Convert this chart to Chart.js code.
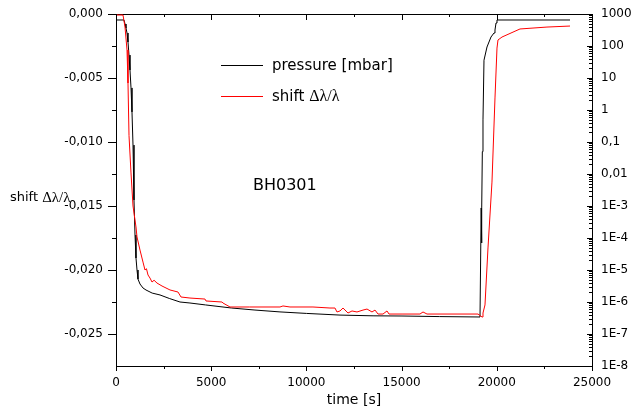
<!DOCTYPE html>
<html><head><meta charset="utf-8">
<script src="https://cdn.jsdelivr.net/npm/chart.js@4.4.0/dist/chart.umd.min.js"></script>
<style>html,body{margin:0;padding:0;background:#fff;}#wrap{position:relative;width:631px;height:417px;}</style>
</head><body><div id="wrap"><canvas id="c"></canvas></div>
<script>
// ---- data ----
const timePressure = [0, 420, 473, 525, 578, 630, 683, 735, 788, 840, 893, 945, 998, 1050, 1103, 1155, 1260, 1418, 1576, 1900, 2311, 2800, 3361, 3886, 4700, 6058, 7300, 8613, 10000, 11765, 13500, 15021, 17000, 19118, 19170, 19180, 19200, 19215, 19240, 19275, 19327, 19485, 19695, 19853, 19905, 19958, 20010, 23845];
const pressure = [650, 650, 487, 365, 255, 133, 52, 17.8, 4.9, 0.87, 0.08, 1.54e-3, 1.24e-4, 2.37e-5, 1e-5, 5.2e-6, 3.65e-6, 2.74e-6, 2.37e-6, 1.9e-6, 1.66e-6, 1.29e-6, 1e-6, 9.3e-7, 8.1e-7, 6.5e-7, 5.6e-7, 4.9e-7, 4.4e-7, 3.9e-7, 3.7e-7, 3.65e-7, 3.5e-7, 3.4e-7, 3.4e-7, 8.7e-4, 7e-5, 8.7e-4, 0.05, 0.49, 36, 93, 191, 255, 316, 523, 650, 650];
const timeShift = [0, 52, 368, 473, 578, 630, 683, 788, 893, 1050, 1103, 1260, 1418, 1523, 1600, 1681, 1786, 1891, 2000, 2153, 2416, 2836, 3256, 3414, 3886, 4674, 4727, 5567, 5619, 5987, 7000, 8613, 8770, 9138, 10346, 11239, 11501, 11606, 11764, 11922, 12185, 12395, 12657, 12973, 13183, 13445, 13603, 13761, 14023, 14233, 14338, 15073, 15966, 16124, 16334, 19013, 19223, 19275, 19380, 19537, 19747, 19905, 20010, 20063, 20273, 21218, 22636, 23845];
const shift = [-0.00005, -0.00008, -0.00008, -0.00102, -0.00281, -0.00539, -0.0095, -0.01242, -0.015, -0.01664, -0.01742, -0.01844, -0.01938, -0.02, -0.0199, -0.02039, -0.02063, -0.02094, -0.0208, -0.02102, -0.02125, -0.02156, -0.02172, -0.02211, -0.02219, -0.02227, -0.02242, -0.0225, -0.02258, -0.02289, -0.02289, -0.02289, -0.02281, -0.02289, -0.02289, -0.02297, -0.02297, -0.02328, -0.0232, -0.02297, -0.02336, -0.0232, -0.02328, -0.02313, -0.02305, -0.02328, -0.02313, -0.02344, -0.02344, -0.0232, -0.02344, -0.02344, -0.02344, -0.02328, -0.02344, -0.02344, -0.02367, -0.02336, -0.02273, -0.01828, -0.01313, -0.00656, -0.00266, -0.00203, -0.0018, -0.00117, -0.00102, -0.00094];
const xTicks = [0, 5000, 10000, 15000, 20000, 25000];
const xMinorTicks = [2500, 7500, 12500, 17500, 22500];
const leftTicks = [-0.025, -0.020, -0.015, -0.010, -0.005, 0];
const leftMinorTicks = [-0.0225, -0.0175, -0.0125, -0.0075, -0.0025];
const rightTicks = [1e-8, 1e-7, 1e-6, 1e-5, 1e-4, 1e-3, 1e-2, 1e-1, 1, 10, 100, 1000];
const rightLabels = ['1E-8', '1E-7', '1E-6', '1E-5', '1E-4', '1E-3', '0,01', '0,1', '1', '10', '100', '1000'];
const seriesNames = ['pressure [mbar]', 'shift '];

const FONT = 'DejaVu Sans';
const tickFont = {family: FONT, size: 12};

const pts = (xs, ys) => xs.map((x, i) => ({x, y: ys[i]}));
const noPad = s => { s.paddingTop = 0; s.paddingBottom = 0; s.paddingLeft = 0; s.paddingRight = 0; };

const frame = {
  id: 'frame',
  afterDraw(chart) {
    const ctx = chart.ctx, a = chart.chartArea;
    const sx = chart.scales.x, sy = chart.scales.y, sr = chart.scales.yR;
    ctx.save();
    ctx.strokeStyle = '#000'; ctx.lineWidth = 1;
    ctx.beginPath();
    const vx = v => Math.round(sx.getPixelForValue(v)) + 0.5;
    const vy = (s, v) => Math.round(s.getPixelForValue(v)) + 0.5;
    xTicks.forEach(v => { const p = vx(v); ctx.moveTo(p, a.bottom); ctx.lineTo(p, a.bottom + 5); ctx.moveTo(p, a.top); ctx.lineTo(p, a.top + 6); });
    xMinorTicks.forEach(v => { const p = vx(v); ctx.moveTo(p, a.bottom); ctx.lineTo(p, a.bottom + 3); ctx.moveTo(p, a.top); ctx.lineTo(p, a.top + 3); });
    leftTicks.forEach(v => { const p = vy(sy, v); ctx.moveTo(a.left, p); ctx.lineTo(a.left - 8, p); });
    leftMinorTicks.forEach(v => { const p = vy(sy, v); ctx.moveTo(a.left, p); ctx.lineTo(a.left - 4, p); });
    rightTicks.forEach((v, i) => {
      const p = vy(sr, v); ctx.moveTo(a.right, p); ctx.lineTo(a.right - 5, p);
      if (i < rightTicks.length - 1) {
        for (let k = 2; k <= 9; k++) { const q = vy(sr, v * k); ctx.moveTo(a.right, q); ctx.lineTo(a.right - 3, q); }
      }
    });
    ctx.stroke();
    // legend
    ctx.beginPath(); ctx.strokeStyle = '#000'; ctx.moveTo(221, 65.5); ctx.lineTo(263, 65.5); ctx.stroke();
    ctx.beginPath(); ctx.strokeStyle = '#ff0000'; ctx.moveTo(221, 96.5); ctx.lineTo(263, 96.5); ctx.stroke();
    ctx.fillStyle = '#000'; ctx.textBaseline = 'middle'; ctx.textAlign = 'left';
    ctx.font = '15px "' + FONT + '"';
    ctx.fillText(seriesNames[0], 272, 66);
    ctx.fillText(seriesNames[1], 272, 97);
    let w = ctx.measureText(seriesNames[1]).width;
    ctx.font = '16px "Liberation Serif"';
    ctx.fillText('\u0394\u03bb/\u03bb', 272 + w, 97);
    // sample name
    ctx.font = '16px "' + FONT + '"';
    ctx.fillText('BH0301', 253, 186);
    // left axis title
    ctx.font = '13px "' + FONT + '"';
    ctx.fillText('shift ', 10, 198);
    w = ctx.measureText('shift ').width;
    ctx.font = '15px "Liberation Serif"';
    ctx.fillText('\u0394\u03bb/\u03bb', 10 + w, 198);
    ctx.restore();
  }
};

new Chart(document.getElementById('c'), {
  type: 'scatter',
  data: {
    datasets: [
      {label: 'shift', data: pts(timeShift, shift), yAxisID: 'y', showLine: true, borderColor: '#ff0000', backgroundColor: '#ff0000', borderWidth: 1, pointRadius: 0, order: 0, tension: 0},
      {label: 'pressure', data: pts(timePressure, pressure), yAxisID: 'yR', showLine: true, borderColor: '#000', backgroundColor: '#000', borderWidth: 1, pointRadius: 0, order: 1, tension: 0}
    ]
  },
  options: {
    responsive: true, maintainAspectRatio: false, animation: false,
    layout: {padding: 0},
    plugins: {legend: {display: false}, tooltip: {enabled: false}},
    scales: {
      x: {
        type: 'linear', position: 'bottom', min: 0, max: 25000,
        afterBuildTicks: s => { s.ticks = xTicks.map(v => ({value: v})); },
        afterFit: s => { s.height = 51; noPad(s); },
        grid: {display: false, drawTicks: false},
        border: {display: true, color: '#000', width: 1},
        ticks: {font: tickFont, color: '#000', padding: 10, autoSkip: false, maxRotation: 0, callback: v => String(v)},
        title: {display: true, text: 'time [s]', color: '#000', font: {family: FONT, size: 14}, padding: {top: 0, bottom: 8}}
      },
      x2: {
        type: 'linear', position: 'top', min: 0, max: 25000,
        afterFit: s => { s.height = 14; noPad(s); },
        grid: {display: false, drawTicks: false},
        border: {display: true, color: '#000', width: 1},
        ticks: {display: false}
      },
      y: {
        type: 'linear', position: 'left', min: -0.0275, max: 0,
        afterBuildTicks: s => { s.ticks = leftTicks.map(v => ({value: v})); },
        afterFit: s => { s.width = 116; noPad(s); },
        grid: {display: false, drawTicks: false},
        border: {display: true, color: '#000', width: 1},
        ticks: {font: tickFont, color: '#000', padding: 13, autoSkip: false, callback: v => (Math.abs(v) < 1e-12 ? '0,000' : v.toFixed(3).replace('.', ','))}
      },
      yR: {
        type: 'logarithmic', position: 'right', min: 1e-8, max: 1000,
        afterBuildTicks: s => { s.ticks = rightTicks.map(v => ({value: v})); },
        afterFit: s => { s.width = 39; noPad(s); },
        grid: {display: false, drawTicks: false},
        border: {display: true, color: '#000', width: 1},
        ticks: {font: tickFont, color: '#000', padding: 9, autoSkip: false, callback: (v, i) => rightLabels[i]}
      }
    }
  },
  plugins: [frame]
});
</script>
</body></html>
